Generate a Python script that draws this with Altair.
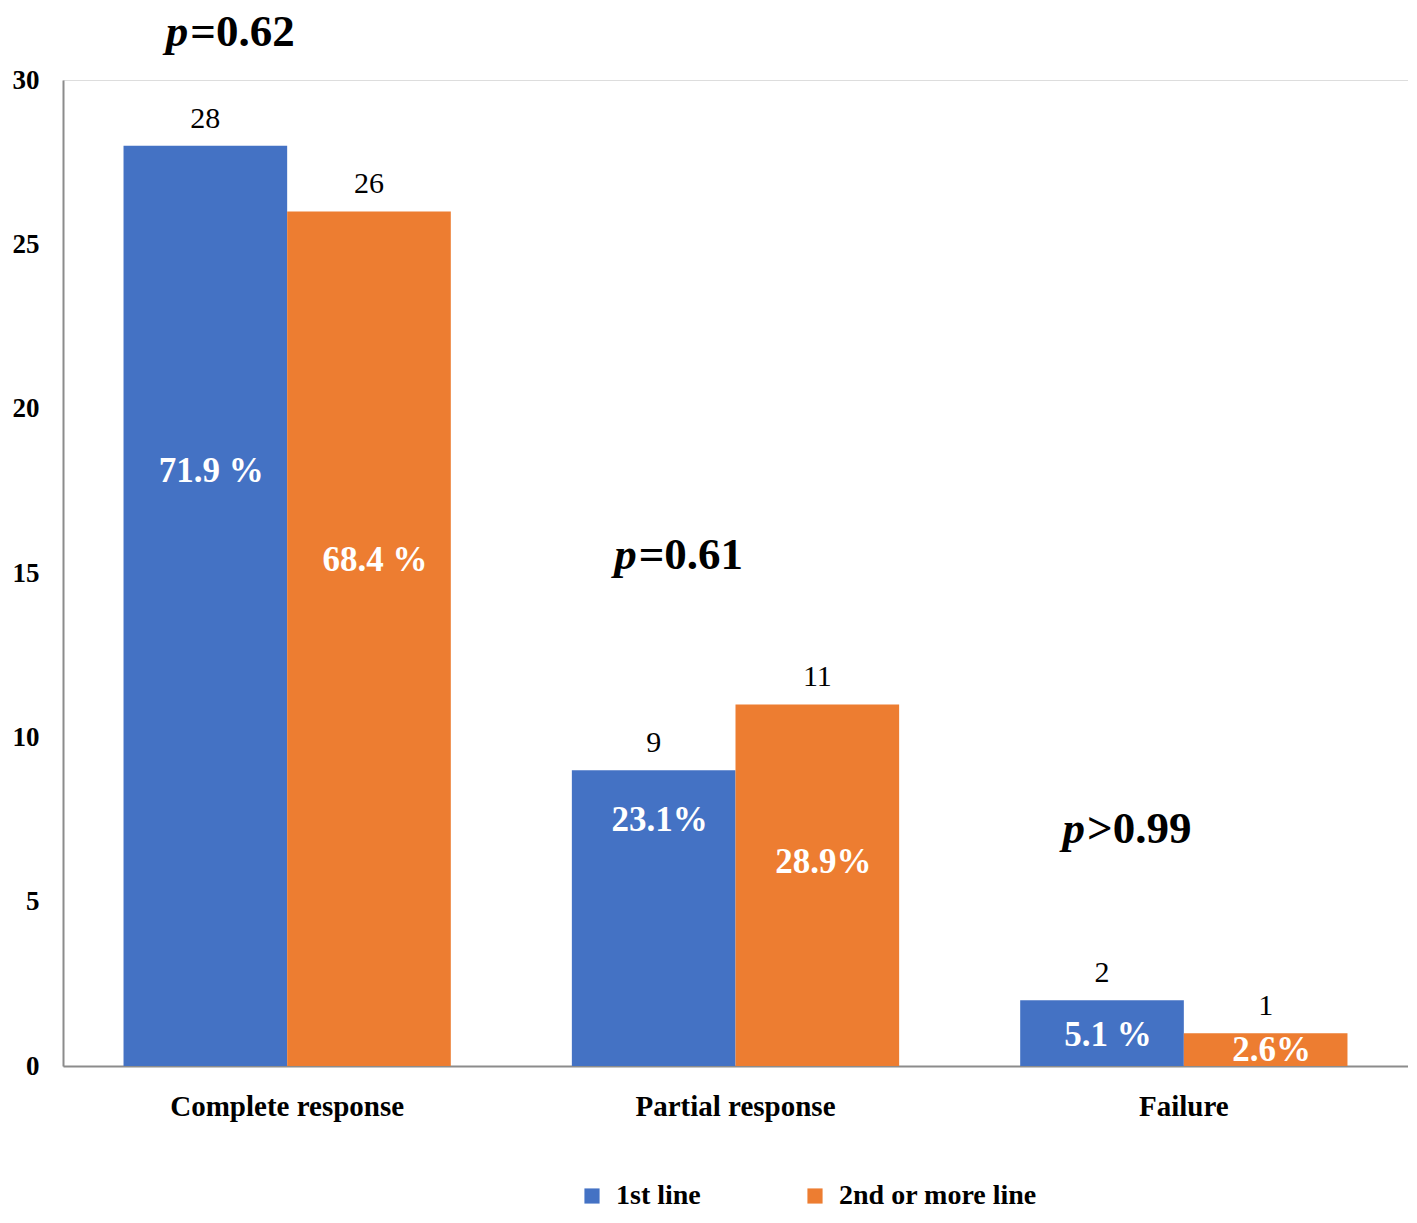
import altair as alt
import pandas as pd

categories = ["Complete response", "Partial response", "Failure"]
series = ["1st line", "2nd or more line"]
first_line = [28, 9, 2]
second_line = [26, 11, 1]
first_pct = ["71.9 %", "23.1%", "5.1 %"]
second_pct = ["68.4 %", "28.9%", "2.6%"]
first_pct_y = [18.1, 7.5, 0.95]
second_pct_y = [15.4, 6.2, 0.5]
p_values = ["=0.62", "=0.61", ">0.99"]
p_y = [31.45, 15.55, 7.2]
colors = ["#4472C4", "#ED7D31"]

rows = []
for i, c in enumerate(categories):
    rows.append({"cat": c, "series": series[0], "value": first_line[i], "pct": first_pct[i], "pct_y": first_pct_y[i]})
    rows.append({"cat": c, "series": series[1], "value": second_line[i], "pct": second_pct[i], "pct_y": second_pct_y[i]})
df = pd.DataFrame(rows)
pdf = pd.DataFrame({"cat": categories, "series": [series[0]] * 3, "p": p_values, "py": p_y})

FONT = "Liberation Serif"

x = alt.X("cat:N", sort=categories, title=None,
          scale=alt.Scale(paddingInner=0.27, paddingOuter=0.135),
          axis=alt.Axis(labelAngle=0, labelFont=FONT, labelFontSize=29, labelFontWeight="bold",
                        labelColor="black", labelPadding=26, labelLimit=0, ticks=False,
                        domainColor="#8c8c8c", domainWidth=2, grid=False))
xo = alt.XOffset("series:N", sort=series, scale=alt.Scale(paddingInner=0, paddingOuter=0))

base = alt.Chart(df)
bars = base.mark_bar().encode(
    x=x, xOffset=xo,
    y=alt.Y("value:Q", title=None,
            scale=alt.Scale(domain=[0, 30], nice=False),
            axis=alt.Axis(values=[0, 5, 10, 15, 20, 25, 30], labelFont=FONT, labelFontSize=27,
                          labelFontWeight="bold", labelColor="black", labelPadding=24, ticks=False,
                          grid=False, domainColor="#8c8c8c", domainWidth=2)),
    color=alt.Color("series:N", sort=series, scale=alt.Scale(domain=series, range=colors),
                    legend=alt.Legend(title=None, orient="none", legendX=515, legendY=1102,
                                      direction="horizontal", symbolType="square", symbolSize=230,
                                      symbolStrokeWidth=0, labelFont=FONT, labelFontSize=28,
                                      labelFontWeight="bold", labelColor="black", columnPadding=100,
                                      labelOffset=10, labelLimit=0, padding=0)),
)
counts = base.mark_text(font=FONT, fontSize=30, color="black", baseline="bottom", dy=-12).encode(
    x=alt.X("cat:N", sort=categories), xOffset=xo, y="value:Q", text="value:Q")
pcts = base.mark_text(font=FONT, fontSize=35, fontWeight="bold", color="white", baseline="middle", dx=6).encode(
    x=alt.X("cat:N", sort=categories), xOffset=xo, y="pct_y:Q", text="pct:N")

pbase = alt.Chart(pdf)
p_italic = pbase.mark_text(font=FONT, fontSize=45, fontWeight="bold", fontStyle="italic",
                           color="black", align="right", baseline="middle", dx=-17).encode(
    x=alt.X("cat:N", sort=categories), xOffset=alt.XOffset("series:N", sort=series), y="py:Q",
    text=alt.value("p"))
p_rest = pbase.mark_text(font=FONT, fontSize=45, fontWeight="bold", color="black",
                         align="left", baseline="middle", dx=-15).encode(
    x=alt.X("cat:N", sort=categories), xOffset=alt.XOffset("series:N", sort=series), y="py:Q",
    text="p:N")

chart = alt.layer(bars, counts, pcts, p_italic, p_rest).properties(
    width=1345, height=986,
    autosize=alt.AutoSizeParams(type="none"),
    padding={"left": 55, "top": 72, "right": 0, "bottom": 146},
).configure_view(strokeWidth=0, stroke="white", fill="white").configure_axis(
    grid=False, ticks=False
).configure(background="white")

chart.save("out.html", embed_options={"renderer": "svg", "actions": False})
